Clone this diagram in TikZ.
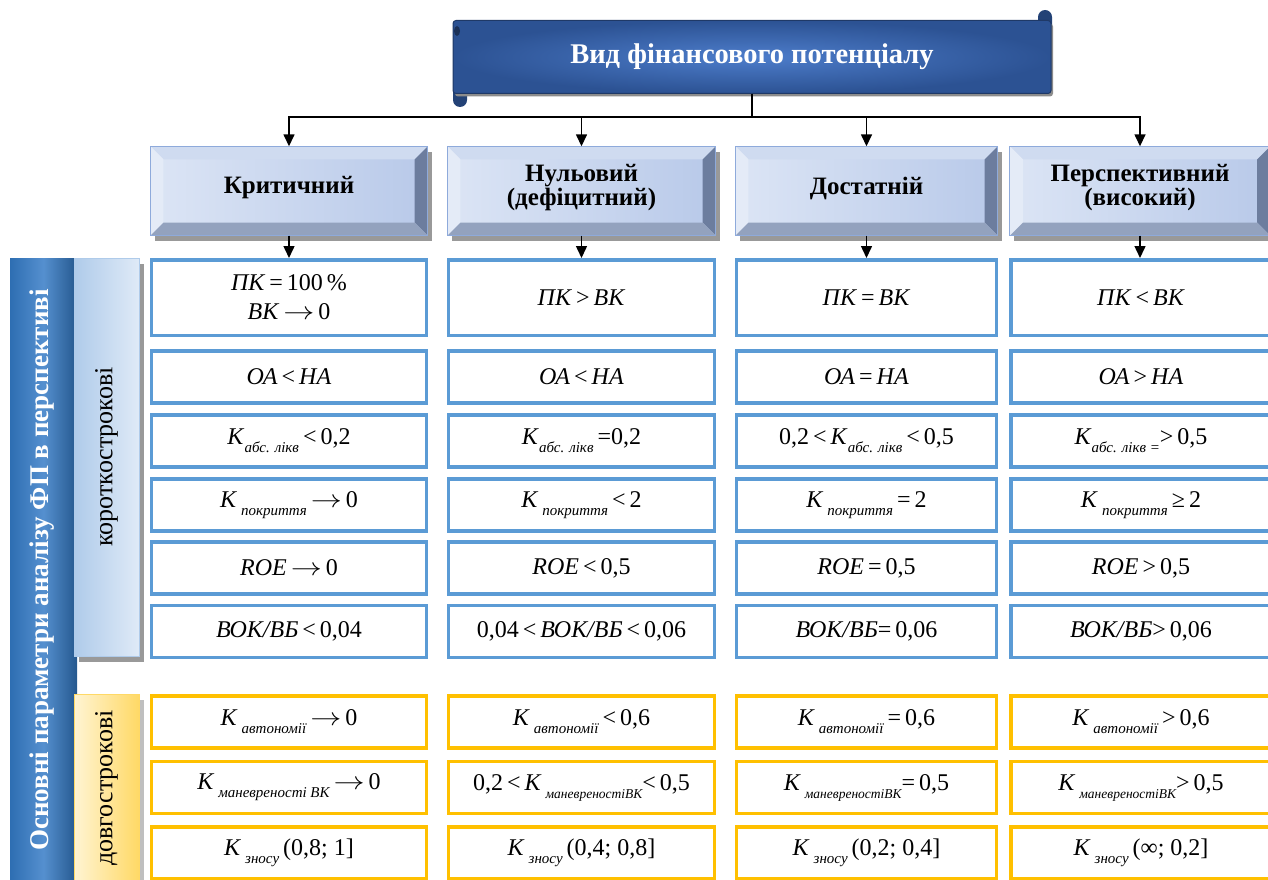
\documentclass[tikz,border=0pt]{standalone}
\usepackage{fontspec}
\setmainfont{Liberation Serif}
\usetikzlibrary{arrows.meta,shadows}

\definecolor{bandark}{HTML}{2C5293}
\definecolor{banlight}{HTML}{4D7DCB}
\definecolor{cellblue}{HTML}{5B9BD5}
\definecolor{cellgold}{HTML}{FFC000}
\definecolor{headL}{HTML}{DCE5F5}
\definecolor{headR}{HTML}{B8C9E9}
\definecolor{headline}{HTML}{8EAADB}
\definecolor{bevtop}{HTML}{CFDBF0}
\definecolor{bevleft}{HTML}{E4EBF7}
\definecolor{bevright}{HTML}{6C7D9E}
\definecolor{bevbot}{HTML}{93A2BE}
\definecolor{barblue}{HTML}{2E6EB2}
\definecolor{barlight}{HTML}{5590CF}
\definecolor{shortL}{HTML}{AFCBEA}
\definecolor{shortR}{HTML}{DFEAF7}
\definecolor{longL}{HTML}{FFF4D3}
\definecolor{longR}{HTML}{FFD966}

\newcommand{\cellfont}{\fontsize{24}{29}\selectfont}
\newcommand{\ix}[1]{\raisebox{-0.33em}{\fontsize{15}{15}\selectfont\itshape #1}}
\newcommand{\ixs}[1]{\raisebox{-0.33em}{\fontsize{13.5}{14}\selectfont\itshape #1}}
\newcommand{\rlt}[1]{\,#1\,}
\newcommand{\goes}{\,\scalebox{1.25}[1]{$\rightarrow$}\,}

% bevelled frame round a header node
\newcommand{\bevel}[1]{%
  \fill[bevtop] (#1.north west) -- (#1.north east) -- ([shift={(-13,13)}]#1.north east) -- ([shift={(13,13)}]#1.north west) -- cycle;
  \fill[bevleft] (#1.north west) -- ([shift={(13,13)}]#1.north west) -- ([shift={(13,-13)}]#1.south west) -- (#1.south west) -- cycle;
  \fill[bevright] (#1.north east) -- ([shift={(-13,13)}]#1.north east) -- ([shift={(-13,-13)}]#1.south east) -- (#1.south east) -- cycle;
  \fill[bevbot] (#1.south west) -- ([shift={(13,-13)}]#1.south west) -- ([shift={(-13,-13)}]#1.south east) -- (#1.south east) -- cycle;
  \draw[headline,line width=1pt] (#1.north west) rectangle (#1.south east);}

\begin{document}
\begin{tikzpicture}[x=1pt,y=-1pt,
  cellb/.style={draw=cellblue,line width=3.5pt,fill=white,inner sep=0pt,font=\cellfont,align=center,minimum height=52pt},
  cellg/.style={cellb,draw=cellgold},
  wa/.style={minimum width=275pt}, wb/.style={minimum width=266pt},
  wc/.style={minimum width=260pt}, wd/.style={minimum width=260pt},
  head/.style={left color=headL,right color=headR,minimum height=89pt,inner sep=0pt,
    drop shadow={shadow xshift=4pt,shadow yshift=-5pt,fill=black!40,opacity=1}},
  headtext/.style={font=\fontsize{25}{24}\selectfont\bfseries,align=center},
  arr/.style={line width=1.5pt,-{Triangle[length=12pt,width=11pt]}}]
  \clip (0,0) rectangle (1268,880);

  % banner
  \fill[bandark!80!black] (1038,26) -- (1038,17) arc[start angle=180,end angle=360,radius=7] -- (1052,26) -- cycle;
  \fill[bandark!80!black] (453,92) -- (453,100) arc[start angle=180,end angle=0,radius=7] -- (467,92) -- cycle;
  \node[inner color=banlight,outer color=bandark,draw=bandark!70!black,line width=1pt,rounded corners=3pt,
    minimum width=598pt,minimum height=73pt,text=white,font=\fontsize{28.5}{28}\selectfont\bfseries,
    drop shadow={shadow xshift=2pt,shadow yshift=-3pt,fill=black!45,opacity=1}]
    (vid) at (752,57) {Вид фінансового потенціалу};
  \fill[bandark!60!black] (457,31) circle[x radius=3,y radius=5];

  % levels
  \node[head,minimum width=277pt] (hda) at (289,191) {};
  \node[head,minimum width=268pt] (hdb) at (581.5,191) {};
  \node[head,minimum width=262pt] (hdc) at (866.5,191) {};
  \node[head,minimum width=260pt] (hdd) at (1140,191) {};
  \bevel{hda} \bevel{hdb} \bevel{hdc} \bevel{hdd}
  \node[headtext] (ta) at ([yshift=3pt]hda) {Критичний};
  \node[headtext] (tb) at ([yshift=3pt]hdb) {Нульовий\\(дефіцитний)};
  \node[headtext] (tc) at ([yshift=3pt]hdc) {Достатній};
  \node[headtext] (td) at ([yshift=3pt]hdd) {Перспективний\\(високий)};

  \coordinate (bus) at (752,117);
  \foreach \h in {hda,hdb,hdc,hdd}
    \draw[arr] (vid.south) -- (bus) -| (\h.north);

  % left side
  \shade[left color=barblue,right color=barblue!80!black,middle color=barlight] (10,258) rectangle (77,885);
  \node[rotate=90,text=white,font=\fontsize{27}{27}\selectfont\bfseries] (osn) at (42,570)
    {Основні параметри аналізу ФП в перспективі};
  \fill[black!40] (79,264) rectangle (144,662);
  \shade[left color=shortL,right color=shortR,draw=shortL] (74,258) rectangle (139,656);
  \node[rotate=90,font=\fontsize{26}{26}\selectfont] (kor) at (106.5,457) {короткострокові};
  \fill[black!25] (79,700) rectangle (144,885);
  \shade[left color=longL,right color=longR,draw=longR] (74,694) rectangle (139,885);
  \node[rotate=90,font=\fontsize{26}{26}\selectfont] (dov) at (106.5,788) {довгострокові};

  % short-term rows
  \node[cellb,wa,minimum height=75.5pt] (r1a) at (289,297.5) {\textit{ПК}\rlt{=}100\,\%\\\textit{ВК}\goes0};
  \node[cellb,wb,minimum height=75.5pt] (r1b) at (581.5,297.5) {\textit{ПК}\rlt{>}\textit{ВК}};
  \node[cellb,wc,minimum height=75.5pt] (r1c) at (866.5,297.5) {\textit{ПК}\rlt{=}\textit{ВК}};
  \node[cellb,wd,minimum height=75.5pt] (r1d) at (1141,297.5) {\textit{ПК}\rlt{<}\textit{ВК}};

  \node[cellb,wa] (r2a) at (289,377) {\textit{ОА}\rlt{<}\textit{НА}};
  \node[cellb,wb] (r2b) at (581.5,377) {\textit{ОА}\rlt{<}\textit{НА}};
  \node[cellb,wc] (r2c) at (866.5,377) {\textit{ОА}\rlt{=}\textit{НА}};
  \node[cellb,wd] (r2d) at (1141,377) {\textit{ОА}\rlt{>}\textit{НА}};

  \node[cellb,wa] (r3a) at (289,441) {\textit{К}\ix{абс. лікв}\rlt{<}0,2};
  \node[cellb,wb] (r3b) at (581.5,441) {\textit{К}\ix{абс. лікв}\,=0,2};
  \node[cellb,wc] (r3c) at (866.5,441) {0,2\rlt{<}\textit{К}\ix{абс. лікв}\rlt{<}0,5};
  \node[cellb,wd] (r3d) at (1141,441) {\textit{К}\ix{абс. лікв =}>\,0,5};

  \node[cellb,wa] (r4a) at (289,505) {\textit{К}\,\ix{покриття}\goes0};
  \node[cellb,wb] (r4b) at (581.5,505) {\textit{К}\,\ix{покриття}\rlt{<}2};
  \node[cellb,wc] (r4c) at (866.5,505) {\textit{К}\,\ix{покриття}\rlt{=}2};
  \node[cellb,wd] (r4d) at (1141,505) {\textit{К}\,\ix{покриття}\rlt{≥}2};

  \node[cellb,wa] (r5a) at (289,568) {\textit{ROE}\goes0};
  \node[cellb,wb] (r5b) at (581.5,568) {\textit{ROE}\rlt{<}0,5};
  \node[cellb,wc] (r5c) at (866.5,568) {\textit{ROE}\rlt{=}0,5};
  \node[cellb,wd] (r5d) at (1141,568) {\textit{ROE}\rlt{>}0,5};

  \node[cellb,wa] (r6a) at (289,631.5) {\textit{ВОК/ВБ}\rlt{<}0,04};
  \node[cellb,wb] (r6b) at (581.5,631.5) {0,04\rlt{<}\textit{ВОК/ВБ}\rlt{<}0,06};
  \node[cellb,wc] (r6c) at (866.5,631.5) {\textit{ВОК/ВБ}=\,0,06};
  \node[cellb,wd] (r6d) at (1141,631.5) {\textit{ВОК/ВБ}>\,0,06};

  % long-term rows
  \node[cellg,wa] (r7a) at (289,722) {\textit{К}\,\ix{автономії}\goes0};
  \node[cellg,wb] (r7b) at (581.5,722) {\textit{К}\,\ix{автономії}\rlt{<}0,6};
  \node[cellg,wc] (r7c) at (866.5,722) {\textit{К}\,\ix{автономії}\rlt{=}0,6};
  \node[cellg,wd] (r7d) at (1141,722) {\textit{К}\,\ix{автономії}\rlt{>}0,6};

  \node[cellg,wa] (r8a) at (289,787.5) {\textit{К}\,\ix{маневреності ВК}\goes0};
  \node[cellg,wb] (r8b) at (581.5,787.5) {0,2\rlt{<}\textit{К}\,\ixs{маневреностіВК}<\,0,5};
  \node[cellg,wc] (r8c) at (866.5,787.5) {\textit{К}\,\ixs{маневреностіВК}=\,0,5};
  \node[cellg,wd] (r8d) at (1141,787.5) {\textit{К}\,\ixs{маневреностіВК}>\,0,5};

  \node[cellg,wa] (r9a) at (289,853) {\textit{К}\,\ix{зносу}\,(0,8; 1]};
  \node[cellg,wb] (r9b) at (581.5,853) {\textit{К}\,\ix{зносу}\,(0,4; 0,8]};
  \node[cellg,wc] (r9c) at (866.5,853) {\textit{К}\,\ix{зносу}\,(0,2; 0,4]};
  \node[cellg,wd] (r9d) at (1141,853) {\textit{К}\,\ix{зносу}\,(∞; 0,2]};

  \foreach \h/\c in {hda/r1a,hdb/r1b,hdc/r1c,hdd/r1d}
    \draw[arr] (\h.south) -- (\h.south |- \c.north);
\end{tikzpicture}
\end{document}
